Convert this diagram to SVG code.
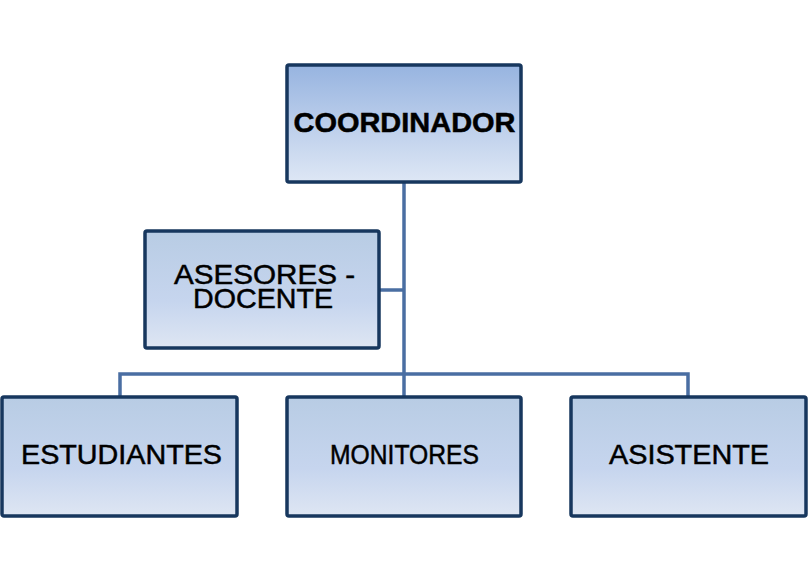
<svg xmlns="http://www.w3.org/2000/svg" width="809" height="580" viewBox="0 0 809 580">
<defs>
<linearGradient id="gTop" x1="0" y1="0" x2="0" y2="1">
<stop offset="0" stop-color="#97B4E0"/>
<stop offset="1" stop-color="#DEE7F5"/>
</linearGradient>
<linearGradient id="gBox" x1="0" y1="0" x2="0" y2="1">
<stop offset="0" stop-color="#B8CCE4"/>
<stop offset="0.6" stop-color="#C6D5EE"/>
<stop offset="1" stop-color="#DEE6F3"/>
</linearGradient>
</defs>
<style>
.box{stroke:#17375E;stroke-width:3.5;}
.lbl{font-family:"Liberation Sans",Arial,sans-serif;fill:#000;stroke:#000;stroke-width:0.5;text-anchor:middle;font-size:28px;}
.conn{fill:none;stroke:#4A6EA2;stroke-width:3.5;}
</style>
<rect width="809" height="580" fill="#FFFFFF"/>
<g id="connectors">
<path class="conn" d="M404,182 V374"/>
<path class="conn" d="M120,397 V374 H688 V397"/>
<path class="conn" d="M404,374 V397"/>
<path class="conn" d="M379,290 H404"/>
</g>
<g id="coordinador">
<rect class="box" x="287" y="65" width="234" height="117" rx="2" fill="url(#gTop)"/>
<text class="lbl" x="404.5" y="132" font-weight="bold" font-size="29" textLength="222" lengthAdjust="spacingAndGlyphs">COORDINADOR</text>
</g>
<g id="asesores">
<rect class="box" x="145" y="231" width="234" height="117" rx="2" fill="url(#gBox)"/>
<text class="lbl" x="264.5" y="284" textLength="181" lengthAdjust="spacingAndGlyphs">ASESORES -</text>
<text class="lbl" x="263" y="308" textLength="140" lengthAdjust="spacingAndGlyphs">DOCENTE</text>
</g>
<g id="estudiantes">
<rect class="box" x="2" y="397" width="235" height="119" rx="2" fill="url(#gBox)"/>
<text class="lbl" x="121.5" y="464" textLength="201" lengthAdjust="spacingAndGlyphs">ESTUDIANTES</text>
</g>
<g id="monitores">
<rect class="box" x="287" y="397" width="234" height="119" rx="2" fill="url(#gBox)"/>
<text class="lbl" x="404.5" y="464" font-size="23" textLength="149" lengthAdjust="spacingAndGlyphs">MONITORES</text>
</g>
<g id="asistente">
<rect class="box" x="571" y="397" width="235" height="119" rx="2" fill="url(#gBox)"/>
<text class="lbl" x="689" y="464" textLength="160" lengthAdjust="spacingAndGlyphs">ASISTENTE</text>
</g>
</svg>
